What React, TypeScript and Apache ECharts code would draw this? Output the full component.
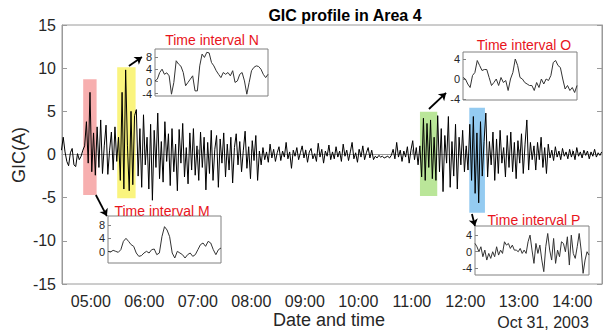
import React, { useEffect, useRef } from "react";
import * as echarts from "echarts";

// ---- Main series: GIC (A), one sample every 2 minutes from 04:27 ----
const START_HOUR = 4.45;
const STEP_HOURS = 2 / 60;
const gic = [
  // 04:27 - 04:49
  0.5, 2.0, 0.3, -0.8, -1.3, 0.2, 0.7, -1.2, -1.4, 0.1, -0.6, -0.2,
  // interval M
  0.5, 1.0, 3.8, -1.0, 7.2, -2.0, 2.5, -2.4,
  // 05:07 - 05:29
  3.2, -1.5, 4.0, -2.2, 1.0, 3.4, -2.3, 0.5, 2.6, -1.8, 3.2, -0.8,
  // interval N
  2.0, -3.0, 7.2, -4.0, 9.8, 1.0, -4.2, 5.0, -3.5, 4.5,
  // 05:51 - 07:00
  5.2, -2.5, 3.0, -3.8, 4.6, -1.2, 2.0, -4.0, 3.5, -5.3,
  2.8, -1.5, 4.8, -2.8, 1.5, -3.2, 3.8, -0.8, 2.4, -3.6,
  3.0, -2.0, 1.2, -4.2, 2.9, -1.0, 3.6, -2.6, 0.8, -3.4,
  2.5, -1.8, 3.0, -2.4, 1.0, -3.0,
  // 07:03 - 08:11
  2.6, -1.5, 2.0, -4.1, 1.4, -2.2, 2.8, -3.0, 0.6, 2.2,
  -3.8, 1.8, -1.0, 2.5, -2.6, 1.2, -1.8, 2.0, -3.3, 0.8,
  2.4, -1.2, 1.5, -2.0, 0.5, 2.7, -1.6, 0.9, -2.8, 1.6,
  -0.7, 2.2, -3.0, 0.4, -1.2,
  // 08:13 - 11:07 (quiet)
  0.8, -0.6, 0.3, -0.9, 1.2, -0.4, 0.6, -0.8, 0.2, 0.9,
  -0.7, 0.4, -0.3, 1.4, -0.5, 0.3, -1.6, 0.5, -0.2, 0.8,
  -0.6, 0.2, 1.0, -0.4, 0.5, -0.9, 0.3, 0.7, -0.5, 0.1,
  -0.8, 1.3, -0.3, 0.6, -1.0, 0.4, -0.2, 1.1, -0.6, 0.3,
  -0.5, 0.9, -0.3, 0.4, -0.8, 1.2, -0.2, 0.5, -0.7, 0.3,
  1.4, -0.5, 0.2, -0.9, 0.6, -0.3, 1.0, -0.6, 0.2, 0.8,
  -0.4, 0.5, -0.6, -0.2, -0.4, -0.1, -0.3, -0.2, -0.4, -0.3,
  -0.2, -0.4, -0.1, 0.6, -0.5, 1.4, -0.3, 0.5, -0.8, 0.4,
  -0.3, 0.9, -1.0, 0.5, 1.6, -0.6, 0.8, -1.2,
  // interval O
  1.0, -2.6, 4.2, -3.0, 3.6, -1.5, 4.0, -2.8, 2.0, -3.0,
  // 11:29 - 12:03
  4.5, -2.0, 3.0, -4.3, 2.2, -1.0, 4.4, -3.8, 1.5, -2.5,
  3.5, -4.0, 2.0, -1.2, 2.8, -2.0, 1.0, -1.8,
  // interval P
  3.5, -3.0, 4.4, -4.5, 2.5, -5.6, 3.8, -2.5, 1.5,
  // 12:23 - 13:17
  4.8, -2.6, 1.5, -1.2, 2.6, -3.0, 1.8, -2.2, 2.8, -1.0,
  0.8, -2.6, 2.2, -1.5, 2.6, -2.0, 1.4, -2.8, 1.6, -1.0,
  2.4, -2.2, 1.2, 4.0, -1.8, 1.4, -0.6, 1.0,
  // 13:19 - 14:33
  -1.8, 1.4, -0.6, 2.0, -1.5, 0.8, -2.2, 1.2, -0.4, 0.5,
  -0.7, 0.9, -0.3, 0.4, -0.6, 0.7, -0.2, 0.3, -0.5, 0.6,
  -0.3, 0.4, -0.6, 0.8, -0.2, 0.3, -0.4, 0.5, -0.1, 0.4,
  -0.5, 0.3, -0.2, 0.6, -0.3, 0.2, -0.1, 0.3,
];

const hourTicks = [5, 6, 7, 8, 9, 10, 11, 12, 13, 14];

// Highlighted time intervals (hours, GIC range)
const intervalNames = ["M", "N", "O", "P"];
const intervalStart = [4.856, 5.492, 11.152, 12.074];
const intervalEnd = [5.107, 5.836, 11.475, 12.367];
const intervalTop = [8.71, 10.1, 4.96, 5.42];
const intervalBottom = [-4.69, -5.08, -4.81, -6.74];
const intervalColors = [
  "rgba(240,110,110,0.55)",
  "rgba(245,235,20,0.55)",
  "rgba(130,210,70,0.55)",
  "rgba(60,160,230,0.55)",
];

// Inset series (zoomed intervals)
const insetM = [
  0.1, -0.1, 0.4, 0.1, -0.2, 0.6, 3.1, 4.0, 3.1, 2.1, 1.6, -0.4, -1.4, -1.2, -0.4,
  0.1, -0.4, 0.6, 0.8, -0.9, -0.4, 4.5, 7.5, 6.5, 4.5, -0.4, -1.9, 0.1, -0.4, -0.9,
  -1.9, -0.9, -0.4, -1.4, -0.9, 0.6, 2.1, 2.6, 1.6, 3.1, 2.6, 0.6, -0.9, 0.6, 1.1,
];
const insetN = [
  0.2, 0.8, 3.0, 4.1, 2.4, 2.9, 1.9, -4.2, -0.3, 6.9, 5.8, 5.1, 3.0, -1.4, -0.3,
  0.8, 1.9, -3.1, -3.1, 5.2, 9.1, 8.0, 9.7, 9.5, 6.3, 5.2, 3.6, 2.4, 1.3, 3.0,
  2.4, 3.0, 1.9, 3.6, -0.3, 0.2, 2.4, 3.0, 0.2, -4.2, -0.3, 3.6, 4.7, 5.2, 5.0,
  4.1, 2.4, 1.3, 2.4,
];
const insetO = [
  0.3, 0, -1.0, -1.7, 0.7, 1.3, 3.7, 2.7, 1.7, 1.9, 1.9, 0.3, -1.3, -0.7, 0,
  -1.3, 0.3, -0.7, -0.3, -2.3, 0, 1.3, 4.0, 2.7, 0.3, 0, -0.7, -1.0, -1.3, -1.3,
  -2.3, -0.7, -1.7, 0, -1.0, 0, -0.3, 0.7, 3.3, 3.7, 2.7, 2.3, 0, -2.0, -1.3,
  -2.3, -1.7, -2.7, -1.3,
];
const insetP = [
  2.0, 1.2, 0, 1.2, -1.2, 0.4, -2.0, -0.4, -1.6, 0, -1.2, 1.2, -0.8, 0.4, -0.4,
  2.4, 1.6, 2.0, 0.8, 1.6, 0.4, 0.4, 0, 0.8, -0.4, 0.4, -0.4, 2.4, 4.0, 0.4,
  -2.8, 2.0, -0.4, 1.6, -2.0, -4.8, 1.2, 4.4, 0.4, -2.0, 3.2, -2.8, 0.4, -1.2,
  2.4, 2.0, 0, 3.6, -3.2, 4.0, -0.4, -1.6, 1.2, 4.4, 0.4, -5.2, -2.0, 0, -0.8,
];
const insetSeries = [insetM, insetN, insetO, insetP];
const insetYMin = [-3.4, -4.8, -4.2, -5.6];
const insetYMax = [10.7, 10.8, 5.4, 6.2];
const insetYTicks = [
  [0, 4, 8],
  [-4, 0, 4, 8],
  [-4, 0, 4],
  [-4, 0, 4],
];

// Arrow endpoints in main-axis units [hour, GIC]
const arrowFrom = [[5.093, -4.69], [5.711, 10.25], [11.32, 5.27], [12.124, -6.89]];
const arrowTo = [[5.299, -7.13], [5.954, 11.3], [11.64, 7.13], [12.18, -8.29]];

// ---- layout / styles ----
const FONT = "Arial, 'Liberation Sans', Helvetica, sans-serif";
const AXIS_GRAY = "#9a9a9a";
const LABEL = "#262626";
const insetBoxes = [
  { left: 108, top: 216, width: 113, height: 47, tx: 162, ty: 211 },
  { left: 155, top: 49, width: 113, height: 47, tx: 212, ty: 40 },
  { left: 463, top: 52, width: 114, height: 48, tx: 524, ty: 45 },
  { left: 475, top: 226, width: 114, height: 49, tx: 534, ty: 220 },
];

export default function App() {
  const ref = useRef<HTMLDivElement>(null);

  useEffect(() => {
    if (!ref.current) return;
    const chart = echarts.init(ref.current, undefined, { renderer: "svg" });

    const mainData = gic.map((v, i) => [START_HOUR + i * STEP_HOURS, v]);

    const grids: any[] = [
      {
        left: 62, right: 6, top: 25, bottom: 50,
        show: true, borderColor: AXIS_GRAY, borderWidth: 1,
      },
      ...insetBoxes.map((b) => ({
        left: b.left, top: b.top, width: b.width, height: b.height,
        show: true, borderColor: "#808080", borderWidth: 1, backgroundColor: "#fff",
      })),
    ];

    const xAxes: any[] = [
      {
        type: "value", gridIndex: 0, min: 4.46, max: 14.555,
        axisLine: { show: true, lineStyle: { color: AXIS_GRAY } },
        axisTick: { show: true, inside: true, length: 5, customValues: hourTicks, lineStyle: { color: AXIS_GRAY } },
        axisLabel: {
          show: true, customValues: hourTicks, color: LABEL, fontSize: 16, fontFamily: FONT, margin: 9,
          formatter: (v: number) => String(Math.round(v)).padStart(2, "0") + ":00",
        },
        splitLine: { show: false },
      },
      ...insetSeries.map((s, k) => ({
        type: "value", gridIndex: k + 1, min: 0, max: s.length - 1,
        axisLine: { show: false }, axisTick: { show: false }, axisLabel: { show: false },
        splitLine: { show: false },
      })),
    ];

    const yAxes: any[] = [
      {
        type: "value", gridIndex: 0, min: -15, max: 15, interval: 5,
        axisLine: { show: true, lineStyle: { color: AXIS_GRAY } },
        axisTick: { show: true, inside: true, length: 5, lineStyle: { color: AXIS_GRAY } },
        axisLabel: { color: LABEL, fontSize: 16, fontFamily: FONT, margin: 6 },
        splitLine: { show: false },
      },
      {
        type: "value", gridIndex: 0, position: "right", min: -15, max: 15, interval: 5,
        axisLine: { show: true, lineStyle: { color: AXIS_GRAY } },
        axisTick: { show: true, inside: true, length: 5, lineStyle: { color: AXIS_GRAY } },
        axisLabel: { show: false },
        splitLine: { show: false },
      },
      ...insetSeries.map((_, k) => ({
        type: "value", gridIndex: k + 1, min: insetYMin[k], max: insetYMax[k],
        axisLine: { show: false },
        axisTick: { show: true, inside: true, length: 3, customValues: insetYTicks[k], lineStyle: { color: "#808080" } },
        axisLabel: { show: true, customValues: insetYTicks[k], color: LABEL, fontSize: 11, fontFamily: FONT, margin: 3 },
        splitLine: { show: false },
      })),
    ];

    const series: any[] = [
      {
        type: "line", xAxisIndex: 0, yAxisIndex: 0, data: mainData,
        symbol: "none", lineStyle: { color: "#000", width: 1 }, z: 2,
      },
      {
        type: "line", xAxisIndex: 0, yAxisIndex: 0, data: [], z: 3, symbol: "none",
        markArea: {
          silent: true,
          data: intervalNames.map((_, i) => [
            { xAxis: intervalStart[i], yAxis: intervalTop[i], itemStyle: { color: intervalColors[i] } },
            { xAxis: intervalEnd[i], yAxis: intervalBottom[i] },
          ]),
        },
        markLine: {
          silent: true,
          symbol: ["none", "arrow"],
          symbolSize: 7,
          label: { show: false },
          lineStyle: { color: "#000", width: 1.8, type: "solid" },
          data: arrowFrom.map((f, i) => [{ coord: f }, { coord: arrowTo[i] }]),
        },
      },
      ...insetSeries.map((s, k) => ({
        type: "line", xAxisIndex: k + 1, yAxisIndex: k + 2,
        data: s.map((v, i) => [i, v]),
        symbol: "none", lineStyle: { color: "#333", width: 1 }, z: 4,
      })),
    ];

    const texts: any[] = [
      { type: "text", x: 345, y: 15, style: { text: "GIC profile in Area 4", font: `bold 16px ${FONT}`, fill: "#000", textAlign: "center", textVerticalAlign: "middle" } },
      { type: "text", x: 329, y: 320, style: { text: "Date and time", font: `18px ${FONT}`, fill: LABEL, textAlign: "center", textVerticalAlign: "middle" } },
      { type: "text", x: 543, y: 322, style: { text: "Oct 31, 2003", font: `16px ${FONT}`, fill: LABEL, textAlign: "center", textVerticalAlign: "middle" } },
      { type: "text", x: 19, y: 155, rotation: Math.PI / 2, style: { text: "GIC(A)", font: `18px ${FONT}`, fill: LABEL, textAlign: "center", textVerticalAlign: "middle" } },
      ...insetBoxes.map((b, k) => ({
        type: "text", x: b.tx, y: b.ty, z: 20,
        style: { text: "Time interval " + intervalNames[k], font: `14px ${FONT}`, fill: "#e8141c", textAlign: "center", textVerticalAlign: "middle" },
      })),
    ];

    chart.setOption({
      animation: false,
      backgroundColor: "#fff",
      grid: grids,
      xAxis: xAxes,
      yAxis: yAxes,
      series,
      graphic: texts,
    });
    return () => chart.dispose();
  }, []);

  return <div ref={ref} style={{ position: "fixed", left: 0, top: 0, width: 608, height: 334 }} />;
}
